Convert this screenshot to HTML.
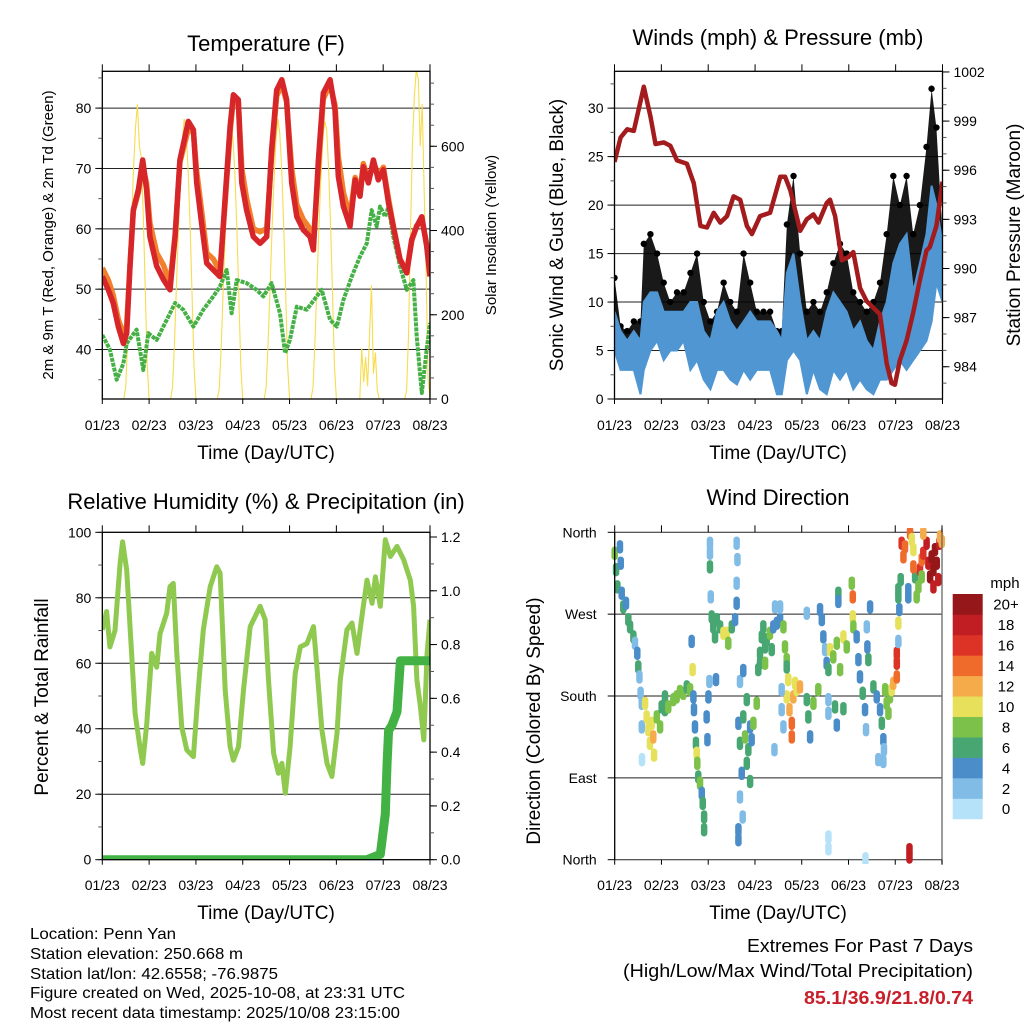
<!DOCTYPE html>
<html><head><meta charset="utf-8">
<style>
html,body{margin:0;padding:0;background:#fff;}
svg{display:block;font-family:"Liberation Sans",sans-serif;}
.tk{font-size:14px;fill:#000;}
.ttl{font-size:22px;fill:#000;}
.axl{font-size:19px;fill:#000;}
.nar{font-family:"Liberation Sans Narrow","Liberation Sans",sans-serif;font-size:16px;fill:#000;}
</style></head>
<body>
<svg id="chart" width="1024" height="1024" viewBox="0 0 1024 1024" xmlns="http://www.w3.org/2000/svg">
<defs>
<clipPath id="c1"><rect x="102.3" y="71.3" width="327.7" height="327.7"/></clipPath>
<clipPath id="c2"><rect x="614.5" y="71.3" width="328" height="327.7"/></clipPath>
<clipPath id="c3"><rect x="102.3" y="532.3" width="327.7" height="327.4"/></clipPath>
<clipPath id="c4"><rect x="610" y="528" width="336" height="336"/></clipPath>
</defs>
<text class="ttl" x="266" y="51" text-anchor="middle">Temperature (F)</text>
<text class="ttl" x="778" y="45" text-anchor="middle">Winds (mph) &amp; Pressure (mb)</text>
<text class="ttl" x="266" y="509" text-anchor="middle">Relative Humidity (%) &amp; Precipitation (in)</text>
<text class="ttl" x="778" y="505" text-anchor="middle">Wind Direction</text>

<text class="axl" x="266" y="459" text-anchor="middle">Time (Day/UTC)</text>
<text class="axl" x="778" y="459" text-anchor="middle">Time (Day/UTC)</text>
<text class="axl" x="266" y="919" text-anchor="middle">Time (Day/UTC)</text>
<text class="axl" x="778" y="919" text-anchor="middle">Time (Day/UTC)</text>

<text x="0" y="0" style="font-size:15px" text-anchor="middle" transform="translate(53,235) rotate(-90)">2m &amp; 9m T (Red, Orange) &amp; 2m Td (Green)</text>
<text x="0" y="0" style="font-size:15px" text-anchor="middle" transform="translate(496,235) rotate(-90)">Solar Insolation (Yellow)</text>
<text class="axl" x="0" y="0" text-anchor="middle" transform="translate(563,235) rotate(-90)">Sonic Wind &amp; Gust (Blue, Black)</text>
<text class="axl" x="0" y="0" text-anchor="middle" transform="translate(1020,235) rotate(-90)">Station Pressure (Maroon)</text>
<text class="axl" x="0" y="0" text-anchor="middle" transform="translate(48,697) rotate(-90)">Percent &amp; Total Rainfall</text>
<text class="axl" x="0" y="0" text-anchor="middle" transform="translate(540,721) rotate(-90)">Direction (Colored By Speed)</text>

<text class="nar" x="30" y="939" textLength="146" lengthAdjust="spacingAndGlyphs">Location: Penn Yan</text>
<text class="nar" x="30" y="959" textLength="213" lengthAdjust="spacingAndGlyphs">Station elevation: 250.668 m</text>
<text class="nar" x="30" y="979" textLength="248" lengthAdjust="spacingAndGlyphs">Station lat/lon: 42.6558; -76.9875</text>
<text class="nar" x="30" y="998" textLength="375" lengthAdjust="spacingAndGlyphs">Figure created on Wed, 2025-10-08, at 23:31 UTC</text>
<text class="nar" x="30" y="1018" textLength="370" lengthAdjust="spacingAndGlyphs">Most recent data timestamp: 2025/10/08 23:15:00</text>
<text class="nar" x="973" y="952" text-anchor="end" style="font-size:18px" textLength="226" lengthAdjust="spacingAndGlyphs">Extremes For Past 7 Days</text>
<text class="nar" x="973" y="977" text-anchor="end" style="font-size:18px" textLength="350" lengthAdjust="spacingAndGlyphs">(High/Low/Max Wind/Total Precipitation)</text>
<text class="nar" x="973" y="1004" text-anchor="end" style="font-size:18px;font-weight:bold;fill:#c8202a" textLength="169" lengthAdjust="spacingAndGlyphs">85.1/36.9/21.8/0.74</text>
<text class="tk" x="1005" y="588" text-anchor="middle" style="font-size:15px">mph</text>
</svg>
<script>
// ---------- data ----------
const dayLabels=['01/23','02/23','03/23','04/23','05/23','06/23','07/23','08/23'];
const tempHours=[0,3.1,5.6,8.2,10.8,12.5,14.2,15.9,18.5,20.7,22.7,24.4,27.9,31.3,34.7,37.3,39.8,44.1,46.7,48.4,50.9,53.5,56.9,60.3,62.9,65.5,67.2,69.7,71.5,74,77.4,80.9,84.3,86.8,89.4,92,94.5,97.1,99.7,103.1,106.5,108.2,110.8,113.3,116.8,119.3,121,123.6,127,129.6,132.1,133.8,136.4,139,141.5,144.1,146.7,149.2,152.6,156.1,158.6,161.2,163.8,166.3,168];
const temp2m=[52.1,49.9,47.7,43.8,41,42.7,53.8,63.1,66.5,71.4,66.5,58.7,53.8,51.6,49.9,58.7,71.4,77.8,76.4,67.6,60.9,54.3,53.2,52.1,64.8,77,82.2,81.4,67.6,63.1,58.7,57.6,58.7,73.1,83,84.7,81.4,67.6,62,59.8,58.7,56.5,71.4,82.5,84.7,79.7,68.7,63.7,60.4,68.1,65.4,70.3,67.6,71.4,68.1,69.8,64.3,60.4,54.9,52.7,58.2,60.4,62,57.1,52.1];
const temp9m=[53.5,51.5,49,45,42.5,44,54,63,66,70.5,67.5,61,56,54,51,59,71,76.5,76,69.5,63,56,55,53,64,76,81.5,81,70,65,60,59.5,60,72,82,84,81,70,64,61.5,60,58,70,81.5,84,80.5,72,66,62,68.5,66,70.8,68,71,69,70.2,65,60.5,55,53,58,60.5,61.5,57.5,52.5];
const dewHours=[0,3.9,7.4,10.8,12.5,17.6,21,23.6,27.9,33,37.3,41.5,46.7,51.8,56.9,60.3,63.8,66.3,68.9,74,79.1,82.6,86.8,91.1,93.7,96.2,99.7,104.8,109.9,112.5,116.8,120.2,123.6,127.9,132.1,135.6,138.1,140.7,142.4,145,146.7,149.2,152.6,156.1,159.5,161.2,163.8,166.3,168];
const dewpoint=[42.4,40,35,37.7,41,43.3,36.6,42.7,41.6,44.9,47.7,46.6,43.8,46.6,48.8,50.4,53.2,46,51.5,51,49.9,48.8,51,46,39.4,41.6,47.1,46.6,48.8,49.9,44.9,43.8,48.2,52.1,55.4,57.6,63.1,60.4,63.7,62,63.7,58.7,53.8,49.9,51.5,42.2,32.8,40,44.4];
const solarHourly=[
0,0,0,0,0,0,0,0,0,0,0,0,28,140,280,420,546,644,700,600,574,434,266,84,
0,0,0,0,0,0,0,0,0,0,0,0,27,133,266,399,519,612,665,632,545,412,253,80,
0,0,0,0,0,0,0,0,0,0,0,0,26,130,260,390,507,598,650,618,533,403,247,78,
0,0,0,0,0,0,0,0,0,0,0,0,27,133,266,399,519,612,665,630,540,410,250,80,
0,0,0,0,0,0,0,0,0,0,0,0,27,133,266,400,520,612,660,640,550,415,255,80,
0,0,0,0,0,0,0,0,0,0,0,0,0,120,40,100,30,150,270,60,110,20,0,0,
0,0,0,0,0,0,0,0,0,0,0,0,20,150,400,600,720,780,760,600,700,500,300,50,
0];
const windHours=[0,3.1,6.5,9.9,13.3,15,18.4,21.8,25.2,28.6,32,35.4,38.9,42.3,45.7,49.1,52.5,55.9,59.3,62.7,66.1,69.5,72.9,76.3,79.7,83.2,85.7,88.3,91.7,95.1,98.5,101.9,105.3,108.7,112.1,115.5,118.9,122.3,125.8,129.2,132.6,136,139.4,142.8,146.2,149.6,153,156.4,159.8,162.4,164.9,168];
const windLow=[5,3,3,3,0.5,3,5,6,4,5,5,6,3,4,2,1,3,3,2,1.5,3,2,3,3,3,0.5,0.5,4,5,4,0.5,3,1,0.5,3,2,3,1,2,1,0.5,2,2,3,4,3,4,5,6,8,12,10];
const windHigh=[9,7,6,7,6,10,11,11,9,9,9,9,10,10,7,6,9,10,8,7,8,9,8,8,8,7,6,13,15,10,6,7,6,9,11,10,9,7,8,6,5,8,10,14,16,17,11,14,17,22,20,16];
const gustHigh=[12.5,7.5,7,8,8,16,17,15,12,10,11,11,13,15,10,8,9,12,10,9,15,12,9,9,9,7,7,18,23,15,9,10,9,11,14,16,15,11,10,9,10,12,17,23,20,23,17,20,26,32,28,17];
const presHours=[0,3.1,6.5,9.9,15,18.4,21,25.2,28.6,32,37.1,40.6,44,47.4,50.8,54.2,57.6,61,64.4,67.8,70.4,74.6,79.7,84.9,87.4,90,95.1,98.5,101.9,104.5,108.7,110.4,113,116.4,119.8,122.3,125.8,129.2,132.6,136,139.4,141.9,143.6,146.2,149.6,153,156.4,159.8,161.5,164.9,168];
const pressure=[996.5,998,998.5,998.4,1001.1,999.3,997.6,997.7,997.5,996.6,996.4,995.2,992.6,992.5,993.4,992.8,993.2,994.4,994.2,992.6,992.1,993.2,993.4,995.6,995.6,994.8,992.3,993,993.3,992.8,994,994.2,993.2,990.5,990.7,991,988.8,988,987.6,987.2,984.2,983,982.9,984.4,985.6,987.3,989.3,991.1,991.3,992.6,995.3];
const rhHours=[0,2.2,3.9,6.5,9.1,10.4,12.5,15.1,16.8,19.3,20.7,22.8,25.3,27.9,29.6,33,34.7,36.4,38.2,40.7,43.3,46.7,49.3,51.8,55.3,58.7,60.4,63,65.5,67.2,69.8,72.4,75.8,78.4,80.9,83.5,85.2,87.8,90.3,92.1,93.8,96.3,98.9,101.5,104.9,108.3,110,112.6,115.2,117.7,120.3,122,125.4,128,130.6,133.1,135.7,138.3,140,142.5,145.1,147.7,151.1,154.5,157.9,159.6,161.3,163.1,164.8,166.5,168];
const humidity=[70.2,75.8,65,70,90.5,97.1,88.5,62,44.7,34.5,29.4,41.7,63,58.8,69,75.3,83.4,84.4,63,40.6,33.5,31.5,52.9,70.2,83.4,89.5,87.5,51.8,34.5,30.4,34.5,51.8,71.2,74.3,77.4,73.3,54.9,32.5,26.4,29.4,20.3,34.5,56.9,65,66,71.2,58.8,39.6,29.4,25.4,38.6,55,70.2,72.3,63,74.3,85.4,78.3,86.4,77.4,97.7,92.6,95.7,91.6,85.4,77.4,54.9,46.8,36.6,63,73.3];
const precipHours=[0,135.7,139.1,142.5,143.4,145.1,146,146.8,148.5,151.1,152.8,168];
const precip=[0,0,0.01,0.02,0.07,0.17,0.36,0.48,0.5,0.55,0.74,0.74];
const dirHour=[0,0.7,1.4,2.7,3.1,3.6,4.4,5.8,7,7.9,9.6,10.4,11.6,12.1,12.7,13.3,13.9,13.9,14,
15.6,16.4,17.3,18.1,19,19.8,20.2,21.6,23.3,24.1,25.8,25.8,27.5,30.1,31.8,33.5,35.2,37,38.7,
39.5,40,40.4,40.7,41.2,41.7,42.1,42.4,42.9,43.8,44.7,45.2,45.9,45.9,47.2,47.6,48.1,
48.9,48.9,48.9,49.3,49.8,50.6,51.5,52.4,54.1,55.8,57.5,58.3,60.1,61.8,62.6,63,62.6,62.6,48.6,52,
63.5,64.3,66,66.9,67.8,68.6,69.5,70.3,65.2,64.3,65.7,63.5,63.5,64.3,66,69.5,67.8,71.2,
72.9,73.7,74.6,75.5,76.3,77.2,78,79.7,80.6,81.4,83.2,84.9,82.3,84.9,74.6,77.2,
86.6,87.4,88.3,89.1,88.3,89.7,90.9,90.9,91.7,92.6,93.4,95.1,85.7,85.7,86.6,88.3,98.6,99.4,100.3,102,104.5,98.6,82,
105.4,106.3,107.1,108,108.8,109.7,109.7,109.7,110.5,112.2,114,115.7,117.4,119.1,114.8,114.8,113.1,117.4,114,109.7,109.7,
121.7,122.2,122.2,122.5,124.2,125.1,125.9,127.3,128.5,129.4,129.7,130.2,131.1,129,128.7,
132.8,134.5,136.2,137.1,137.9,138.8,139.6,140.5,141.3,142.2,143,144.8,135.3,137.9,138.2,144.8,144.8,
145.6,145.6,146.1,145.6,145.6,146.8,147.3,148.2,149,150.7,150.7,151.6,152.5,153.3,154.2,155,155.9,151.3,151.3,
156.7,157.6,158.4,160.1,161,161.9,162.7,163.6,163.6,164.4,165.3,166.1,166.7,167,167.9,157.6,158.4,153.3];
const dirDeg=[337,319,300,344,326,293,278,282,264,256,245,238,227,212,201,183,172,146,110,
172,157,143,128,150,135,115,157,146,168,179,165,168,176,179,185,183,190,187,
240,209,179,165,146,128,117,106,91,84,73,62,47,33,157,132,179,
348,337,322,289,267,256,245,264,256,249,249,238,256,264,348,330,304,282,196,198,
150,128,157,135,106,121,146,132,95,69,47,33,22,196,208,86,176,150,
172,209,227,245,256,234,242,249,231,256,260,264,278,278,216,216,
256,234,220,198,179,165,150,135,179,194,187,190,187,165,146,212,176,157,135,172,187,271,121,
275,264,245,231,216,209,176,161,231,223,238,209,245,234,293,284,168,166,148,25,12,
304,289,267,256,245,220,201,183,165,256,234,220,278,143,1,
190,179,165,150,132,187,172,161,179,187,194,201,110,108,121,227,216,
240,260,275,289,297,308,348,333,344,297,289,359,352,341,311,289,300,11,3,
319,330,337,348,326,311,333,319,300,341,326,308,348,355,350,311,359,322];
const dirSpeed=[7,6,5,4,4,4,5,4,5,6,6,2,4,6,2,1,2,1,0,
10,9,10,10,10,12,10,8,8,6,6,6,8,8,8,8,8,6,8,
4,9,4,4,4,6,10,7,6,7,4,6,6,6,4,4,4,
2,2,6,2,6,6,6,6,6,10,10,8,6,4,2,2,2,4,2,4,
4,6,6,8,6,6,4,4,4,2,2,4,4,2,4,6,6,8,
8,6,6,6,6,6,6,8,6,4,4,4,2,2,6,8,
8,8,8,10,9,12,14,14,12,10,10,12,2,2,2,6,6,6,4,8,8,1,1,
4,4,4,2,4,6,2,2,9,8,8,8,9,8,6,4,6,6,4,0,0,
7,13,10,8,4,4,4,6,4,2,4,6,4,2,0,
6,4,4,6,4,8,8,8,8,10,12,14,2,2,2,16,16,
2,10,4,6,6,6,16,14,14,4,4,14,10,10,6,8,8,18,18,
16,14,16,18,18,20,20,20,18,20,20,18,18,12,12,8,12,14];
const speedLabels=['0','2','4','6','8','10','12','14','16','18','20+'];
const speedColors=['#b5e2f8','#80bce6','#4a8dc8','#47a671','#7bc14a','#e6e05b','#f6ab4a','#ef6b2c','#dd3327','#c11e24','#951719'];
const tempTicks=[40,50,60,70,80];
const solarTicks=[0,200,400,600];
const windTicks=[0,5,10,15,20,25,30];
const presTicks=[984,987,990,993,996,999,1002];
const rhTicks=[0,20,40,60,80,100];
const precipTicks=['0.0','0.2','0.4','0.6','0.8','1.0','1.2'];
const dirTicks=[0,90,180,270,360];
const dirLabels=['North','East','South','West','North'];

// ---------- helpers ----------
const NS='http://www.w3.org/2000/svg';
const svg=document.getElementById('chart');
function mk(tag,attrs,parent){const e=document.createElementNS(NS,tag);for(const k in attrs)e.setAttribute(k,attrs[k]);(parent||svg).appendChild(e);return e;}
function lin(d0,d1,r0,r1){return v=>r0+(v-d0)/(d1-d0)*(r1-r0);}
function pathOf(xs,ys,fx,fy){let d='';for(let i=0;i<xs.length;i++){d+=(i?'L':'M')+fx(xs[i]).toFixed(1)+','+fy(ys[i]).toFixed(1);}return d;}

const P1={l:102.3,t:71.3,r:430,b:399};
const P2={l:614.5,t:71.3,r:942.5,b:399};
const P3={l:102.3,t:532.3,r:430,b:859.7};
const P4={l:614.7,t:532.3,r:942,b:859.7};
const x1=lin(0,168,P1.l,P1.r), yT=lin(31.8,86.1,P1.b,P1.t), yS=lin(0,778,P1.b,P1.t);
const x2=lin(0,168,P2.l,P2.r), yW=lin(0,33.8,P2.b,P2.t), yP=lin(982.03,1002.04,P2.b,P2.t);
const x3=lin(0,168,P3.l,P3.r), yRH=lin(0,100,P3.b,P3.t), yPr=lin(0,1.2,P3.b,537);
const x4=lin(0,168,P4.l,P4.r), yD=lin(0,360,P4.b,P4.t);

function grid(P,ticks,fy,name){
  const g=mk('g',{});
  
  
  ticks.forEach(v=>{const y=fy(v);const ln=mk('line',{x1:P.l,x2:P.r,y1:y,y2:y,stroke:'#222','stroke-width':1},g);
    
    });
}
function xAxis(P,fx,labelY,name){
  const g=mk('g',{});
  
  
  dayLabels.forEach((lab,i)=>{const x=fx(i*24);
    mk('line',{x1:x,x2:x,y1:P.t-7,y2:P.t,stroke:'#000','stroke-width':1},g);
    mk('line',{x1:x,x2:x,y1:P.b,y2:P.b+5,stroke:'#000','stroke-width':1},g);
    const t=mk('text',{x:x,y:labelY,'text-anchor':'middle',class:'tk'},g);t.textContent=lab;
    
    });
}
function yAxis(P,side,ticks,labels,fy,minors,name){
  const g=mk('g',{});
  
  
  const x0=side==='left'?P.l:P.r, s=side==='left'?-1:1;
  minors.forEach(v=>{const y=fy(v);mk('line',{x1:x0,x2:x0+s*4,y1:y,y2:y,stroke:'#555','stroke-width':1},g);});
  ticks.forEach((v,i)=>{const y=fy(v);mk('line',{x1:x0,x2:x0+s*7,y1:y,y2:y,stroke:'#000','stroke-width':1},g);
    const t=mk('text',{x:x0+s*11,y:y+5,'text-anchor':side==='left'?'end':'start',class:'tk'},g);t.textContent=labels[i];
    
    });
}
function frame(P,name){const r=mk('rect',{x:P.l,y:P.t,width:P.r-P.l,height:P.b-P.t,fill:'none',stroke:'#000','stroke-width':1.3});
  
  }
function range(a,b,s){const o=[];for(let v=a;v<=b+1e-9;v+=s)o.push(+v.toFixed(3));return o;}

// ---------- Panel 1: temperature ----------
grid(P1,tempTicks,yT,'temperature-gridlines');
const g1=mk('g',{'clip-path':'url(#c1)'});


const solarLine=mk('path',{d:pathOf(solarHourly.map((v,i)=>i),solarHourly,x1,yS),fill:'none',stroke:'#f6dc4e','stroke-width':1.1},g1);


const dewLine=mk('path',{d:pathOf(dewHours,dewpoint,x1,yT),fill:'none',stroke:'#45b045','stroke-width':4,'stroke-dasharray':'4 1','stroke-linejoin':'round'},g1);


const t9Line=mk('path',{d:pathOf(tempHours,temp9m,x1,yT),fill:'none',stroke:'#f27f2c','stroke-width':5.5,'stroke-linejoin':'round'},g1);


const t2Line=mk('path',{d:pathOf(tempHours,temp2m,x1,yT),fill:'none',stroke:'#d6262a','stroke-width':5.5,'stroke-linejoin':'round'},g1);


frame(P1,'temperature-frame');
xAxis(P1,x1,430,'temperature-x-axis');
yAxis(P1,'left',tempTicks,tempTicks.map(String),yT,range(35,85,5),'temperature-y-axis');
yAxis(P1,'right',solarTicks,solarTicks.map(String),yS,range(0,750,50),'solar-y-axis');

// ---------- Panel 2: winds & pressure ----------
grid(P2,windTicks.slice(1),yW,'wind-gridlines');
const g2=mk('g',{'clip-path':'url(#c2)'});


let gd=pathOf(windHours,gustHigh,x2,yW);
for(let i=windHours.length-1;i>=0;i--)gd+='L'+x2(windHours[i]).toFixed(1)+','+yW(windLow[i]).toFixed(1);
const gustBand=mk('path',{d:gd+'Z',fill:'#000','fill-opacity':0.9},g2);


windHours.forEach((h,i)=>{const c=mk('circle',{cx:x2(h),cy:yW(gustHigh[i]),r:3.2,fill:'#000'},g2);
  
  });
let wd=pathOf(windHours,windHigh,x2,yW);
for(let i=windHours.length-1;i>=0;i--)wd+='L'+x2(windHours[i]).toFixed(1)+','+yW(windLow[i]).toFixed(1);
const windBand=mk('path',{d:wd+'Z',fill:'#4f96d2',stroke:'#4f96d2','stroke-width':2},g2);


const presLine=mk('path',{d:pathOf(presHours,pressure,x2,yP),fill:'none',stroke:'#a31b1d','stroke-width':4.5,'stroke-linejoin':'round'},g2);


frame(P2,'wind-frame');
xAxis(P2,x2,430,'wind-x-axis');
yAxis(P2,'left',windTicks,windTicks.map(String),yW,range(0,32.5,2.5),'wind-y-axis');
yAxis(P2,'right',presTicks,presTicks.map(String),yP,range(983,1002,1),'pressure-y-axis');

// ---------- Panel 3: humidity & precip ----------
grid(P3,[20,40,60,80],yRH,'humidity-gridlines');
const g3=mk('g',{'clip-path':'url(#c3)'});


const rhLine=mk('path',{d:pathOf(rhHours,humidity,x3,yRH),fill:'none',stroke:'#8fc94f','stroke-width':5,'stroke-linejoin':'round'},g3);


const prLine=mk('path',{d:pathOf(precipHours,precip,x3,yPr),fill:'none',stroke:'#43b244','stroke-width':9,'stroke-linejoin':'round','stroke-linecap':'round'},g3);


frame(P3,'humidity-frame');
xAxis(P3,x3,890,'humidity-x-axis');
yAxis(P3,'left',rhTicks,rhTicks.map(String),yRH,range(0,100,10),'humidity-y-axis');
yAxis(P3,'right',precipTicks.map(Number),precipTicks,yPr,range(0,1.2,0.1),'precip-y-axis');

// ---------- Panel 4: wind direction ----------
grid(P4,dirTicks,yD,'direction-gridlines');
const g4=mk('g',{'clip-path':'url(#c4)'});


dirHour.forEach((h,i)=>{const ci=Math.min(10,Math.round(dirSpeed[i]/2));
  const cx=x4(h), cy=yD(dirDeg[i]);
  const c=mk('line',{x1:cx,x2:cx,y1:cy-3.5,y2:cy+3.5,stroke:speedColors[ci],'stroke-width':6.5,'stroke-linecap':'round'},g4);
  
  });
const ln4=mk('line',{x1:P4.l,x2:P4.l,y1:P4.t,y2:P4.b,stroke:'#000','stroke-width':1.3});


const ln4r=mk('line',{x1:P4.r,x2:P4.r,y1:P4.t-4,y2:P4.b+4,stroke:'#666','stroke-width':1.3});


xAxis(P4,x4,890,'direction-x-axis');
const g4y=mk('g',{});


dirTicks.forEach((v,i)=>{const y=yD(v);mk('line',{x1:P4.l-7,x2:P4.l,y1:y,y2:y,stroke:'#000'},g4y);
  const t=mk('text',{x:P4.l-18,y:y+5,'text-anchor':'end',class:'tk'},g4y);t.textContent=dirLabels[i];
  
  });
// colorbar
const cb=mk('g',{});


const cbTop=594, cbH=20.45;
speedColors.forEach((col,i)=>{const y=cbTop+(10-i)*cbH;
  const r=mk('rect',{x:952.7,y:y,width:30,height:cbH+0.3,fill:col},cb);
  
  
  const t=mk('text',{x:1006,y:y+cbH/2+5.5,'text-anchor':'middle',class:'tk',style:'font-size:15px'},cb);t.textContent=speedLabels[i];
  
  });
</script>
</body></html>
